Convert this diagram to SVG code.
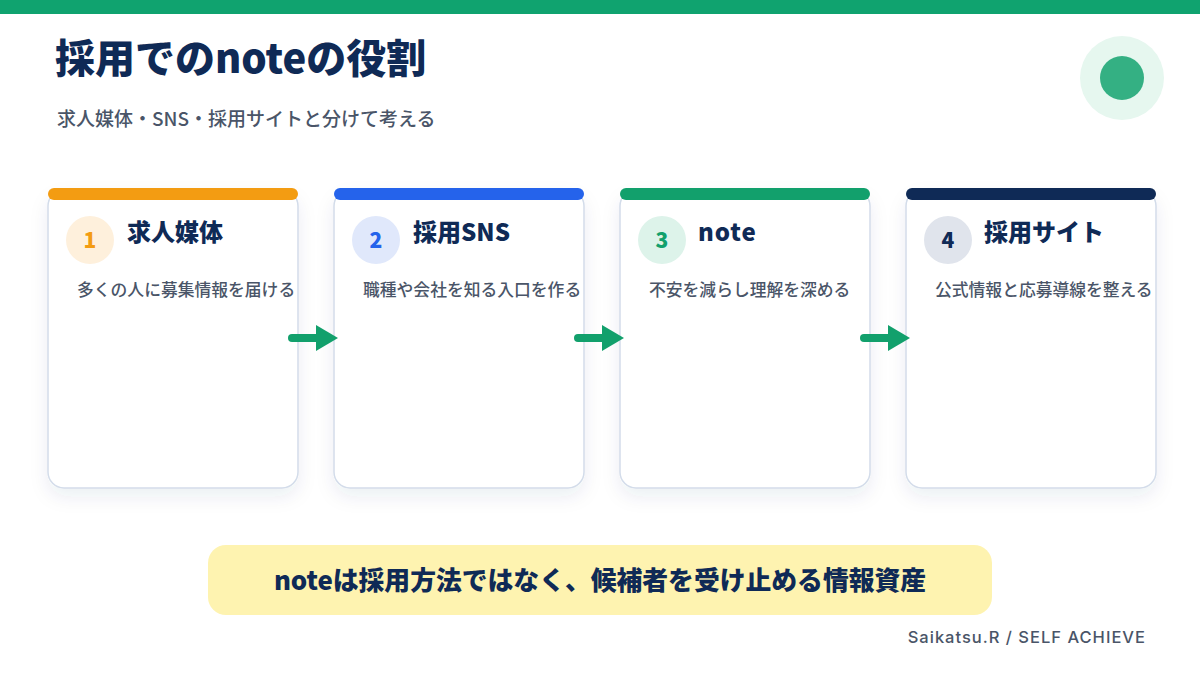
<svg xmlns="http://www.w3.org/2000/svg" width="1200" height="675" viewBox="0 0 1200 675">
<defs>
<style>
.jp{font-family:"Noto Sans CJK JP","Noto Sans",sans-serif;}
.title{font-size:40px;font-weight:900;fill:#0f2a56;}
.sub{font-size:19px;font-weight:500;fill:#4a5568;}
.card{fill:#ffffff;stroke:#d3dcea;stroke-width:1.5;}
.ctitle{font-size:24px;font-weight:900;fill:#0f2a56;}
.desc{font-size:16.8px;font-weight:500;fill:#4a5568;}
.num{font-size:21px;font-weight:900;text-anchor:middle;}
.conn{stroke:#12a06c;stroke-width:8;stroke-linecap:round;fill:none;}
.head{fill:#12a06c;}
</style>
<filter id="sh" x="-20%" y="-20%" width="140%" height="150%">
<feDropShadow dx="0" dy="8" stdDeviation="9" flood-color="#1e3a6e" flood-opacity="0.08"/>
</filter>
</defs>
<rect x="0" y="0" width="1200" height="675" fill="#ffffff"/>
<rect x="0" y="0" width="1200" height="14" fill="#10a36f"/>
<g id="header">
<text class="jp title" x="55" y="73">採用でのnoteの役割</text>
<text class="jp sub" x="57" y="126">求人媒体・SNS・採用サイトと分けて考える</text>
<circle cx="1122" cy="78" r="42" fill="#e6f7ef"/>
<circle cx="1122" cy="78" r="22" fill="#34b083"/>
</g>
<g id="card1">
<rect class="card" x="48" y="190" width="250" height="298" rx="16" filter="url(#sh)"/>
<rect x="48" y="188" width="250" height="12" rx="6" fill="#f39c12"/>
<circle cx="90" cy="240" r="24" fill="#fef0dc"/>
<text class="jp num" x="90" y="248" fill="#f39c12">1</text>
<text class="jp ctitle" x="127" y="241">求人媒体</text>
<text class="jp desc" x="77" y="296">多くの人に募集情報を届ける</text>
</g>
<g id="card2">
<rect class="card" x="334" y="190" width="250" height="298" rx="16" filter="url(#sh)"/>
<rect x="334" y="188" width="250" height="12" rx="6" fill="#2563eb"/>
<circle cx="376" cy="240" r="24" fill="#e0e8fb"/>
<text class="jp num" x="376" y="248" fill="#2563eb">2</text>
<text class="jp ctitle" x="413" y="241">採用SNS</text>
<text class="jp desc" x="363" y="296">職種や会社を知る入口を作る</text>
</g>
<g id="card3">
<rect class="card" x="620" y="190" width="250" height="298" rx="16" filter="url(#sh)"/>
<rect x="620" y="188" width="250" height="12" rx="6" fill="#12a06c"/>
<circle cx="662" cy="240" r="24" fill="#ddf3ea"/>
<text class="jp num" x="662" y="248" fill="#12a06c">3</text>
<text class="jp ctitle" x="698" y="241" letter-spacing="1">note</text>
<text class="jp desc" x="649" y="296">不安を減らし理解を深める</text>
</g>
<g id="card4">
<rect class="card" x="906" y="190" width="250" height="298" rx="16" filter="url(#sh)"/>
<rect x="906" y="188" width="250" height="12" rx="6" fill="#0f2a56"/>
<circle cx="948" cy="240" r="24" fill="#e0e4ec"/>
<text class="jp num" x="948" y="248" fill="#0f2a56">4</text>
<text class="jp ctitle" x="984" y="241">採用サイト</text>
<text class="jp desc" x="935" y="296">公式情報と応募導線を整える</text>
</g>
<g id="connectors">
<line class="conn" x1="292" y1="338" x2="318" y2="338"/>
<polygon class="head" points="316,325 338,338 316,351"/>
<line class="conn" x1="578" y1="338" x2="604" y2="338"/>
<polygon class="head" points="602,325 624,338 602,351"/>
<line class="conn" x1="864" y1="338" x2="890" y2="338"/>
<polygon class="head" points="888,325 910,338 888,351"/>
</g>
<g id="summary">
<rect x="208" y="545" width="784" height="70" rx="18" fill="#fef3b0"/>
<text class="jp" x="600" y="590" font-size="25.8" font-weight="900" fill="#0f2a56" text-anchor="middle">noteは採用方法ではなく、候補者を受け止める情報資産</text>
</g>
<text x="1146" y="643" font-family="Inter, 'Noto Sans', sans-serif" font-size="16.5" font-weight="500" letter-spacing="1" fill="#4a5568" text-anchor="end">Saikatsu.R / SELF ACHIEVE</text>
</svg>
